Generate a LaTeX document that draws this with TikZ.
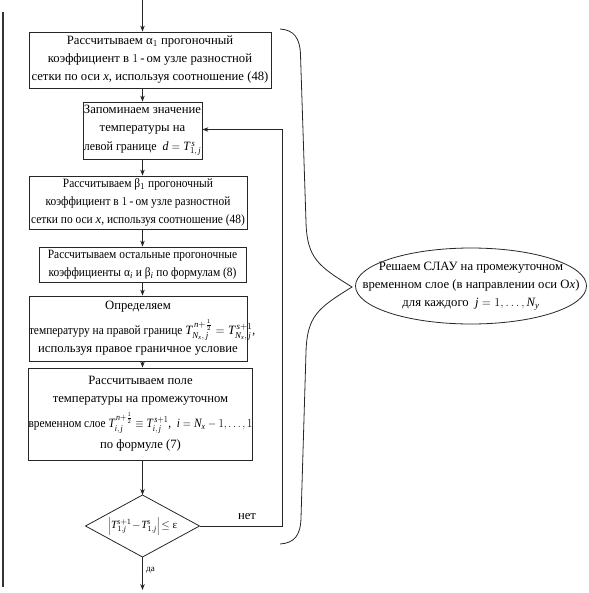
\documentclass[tikz,border=0pt]{standalone}
\usepackage{fontspec}
\setmainfont{Liberation Serif}
\newfontfamily\condfont[FakeStretch=0.9]{Liberation Serif}
\usetikzlibrary{shapes.geometric,arrows.meta}
\newcommand{\mv}[1]{\mathit{#1}}
\begin{document}
\begin{tikzpicture}[x=1pt,y=-1pt,
  every node/.style={font=\fontsize{12.7}{18}\selectfont},
  box/.style={draw=black!85,line width=0.8pt,align=center,inner sep=0pt},
  arr/.style={draw=black!85,line width=0.8pt,-{Stealth[length=6pt,width=4.5pt]}},
  ln/.style={draw=black!85,line width=0.8pt}]
\useasboundingbox (0,0) rectangle (588,593);

% left bar
\coordinate (L1) at (3,12);
\coordinate (L2) at (3,587);
\draw[line width=1.5pt,black!80] (L1) -- (L2);

\node[box,minimum width=242pt,minimum height=56pt] (b1) at (150,60)
 {Рассчитываем α$_1$ прогоночный\\коэффициент в $1$\,-\,ом узле разностной\\сетки по оси $\mv{x}$, используя соотношение (48)};

\node[box,minimum width=119pt,minimum height=57pt] (b2) at (142.5,130.5)
 {Запоминаем значение\\температуры на\\[1pt]\scalebox{0.94}[1]{левой границе \ $\mv{d}=\mv{T}^{\,\mv{s}}_{1,\,\mv{j}}$}};

\node[box,minimum width=218pt,minimum height=53pt] (b3) at (138,202.5)
 {\condfont Рассчитываем β$_1$ прогоночный\\\condfont коэффициент в $1$\,-\,ом узле разностной\\\condfont сетки по оси $\mv{x}$, используя соотношение (48)};

\node[box,minimum width=207pt,minimum height=35pt] (b4) at (142.5,264.5)
 {\condfont Рассчитываем остальные прогоночные\\\condfont коэффициенты α$_{\mv{i}}$ и β$_{\mv{i}}$ по формулам (8)};

\node[box,minimum width=218pt,minimum height=65pt] (b5) at (138,328.5)
 {Определяем\\[7pt]\makebox[218pt][l]{\condfont температуру на правой границе $\mv{T}^{\,\mv{n}+\frac{1}{2}}_{\mv{N}_{\mv{x}},\,\mv{j}}=\mv{T}^{\,\mv{s}+1}_{\mv{N}_{\mv{x}},\,\mv{j}}$,}\\используя правое граничное условие};

\node[box,minimum width=215pt,minimum height=92pt] (b6) at (140.5,414)
 {Рассчитываем поле\\температуры на промежуточном\\[7pt]\scalebox{0.89}[1]{временном слое $\mv{T}^{\,\mv{n}+\frac{1}{2}}_{\mv{i},\,\mv{j}}\equiv\mv{T}^{\,\mv{s}+1}_{\mv{i},\,\mv{j}}$, \ $\mv{i}=\mv{N}_{\mv{x}}-1,\ldots,1$}\\[3pt]по формуле (7)};

% decision
\node[font=\fontsize{11}{13}\selectfont,inner sep=0pt] (dec) at (142.5,526)
 {$\left|\mv{T}^{\mv{s}+1}_{1,\mv{j}}\!-\!\mv{T}^{\mv{s}}_{1,\mv{j}}\right|\!\le$ ε};
\coordinate (dN) at (142.5,495);
\coordinate (dS) at (142.5,557);
\coordinate (dW) at (85.5,526);
\coordinate (dE) at (199.5,526);
\draw[ln] (dN) -- (dE) -- (dS) -- (dW) -- cycle;

% ellipse
\node[align=center,inner sep=0pt] (ell) at (471,286)
 {Решаем СЛАУ на промежуточном\\временном слое (в направлении оси O$\mv{x}$)\\для каждого \ $\mv{j}=1,\ldots,\mv{N}_{\mv{y}}$};
\draw[ln] (ell.center) ellipse [x radius=115.5pt, y radius=38pt];

% main flow
\coordinate (top) at (142.5,0);
\coordinate (bot) at (142.5,590);
\draw[arr] (top) -- (b1.north -| top);
\draw[arr] (b1.south -| top) -- (b2.north -| top);
\draw[arr] (b2.south -| top) -- (b3.north -| top);
\draw[arr] (b3.south -| top) -- (b4.north -| top);
\draw[arr] (b4.south -| top) -- (b5.north -| top);
\draw[arr] (b5.south -| top) -- (b6.north -| top);
\draw[arr] (b6.south -| top) -- (dN);
\draw[arr] (dS) -- (bot) node[pos=0.4,right,font=\fontsize{9}{10}\selectfont] (da) {да};

% loop back
\coordinate (lpA) at (282,526);
\coordinate (lpB) at (282,129.5);
\draw[arr] (dE) -- (lpA) -- (lpB) -- (b2.east |- lpB);
\node (net) at (247,517) {нет};

% brace
\draw[ln] (280,29) .. controls (294,30) and (300,38) .. (300.5,55)
  -- (306,222) .. controls (307,258) and (318,266) .. (352,287)
  .. controls (318,308) and (307,316) .. (306,352)
  -- (301,518) .. controls (300.5,536) and (294,543) .. (280,544);
\end{tikzpicture}
\end{document}
